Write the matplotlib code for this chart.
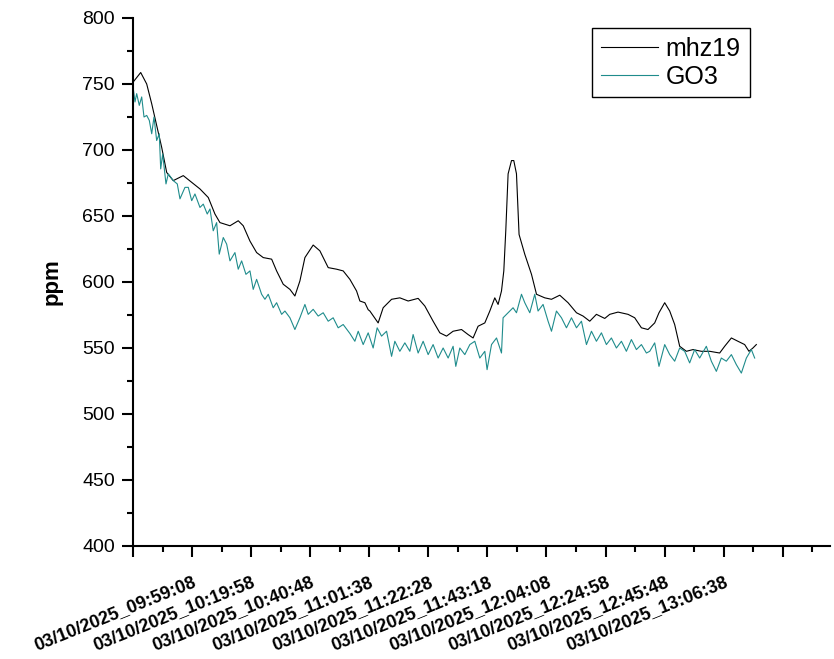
import numpy as np
import matplotlib.pyplot as plt
from matplotlib.ticker import MultipleLocator

# segundos desde 03/10/2025 09:38:18
t_mhz = [6, 163, 290, 396, 501, 607, 713, 852, 1064, 1242, 1417, 1593, 1734, 1840,
         2052, 2227, 2333, 2475, 2616, 2756, 2934, 3039, 3179, 3321, 3426, 3532,
         3638, 3813, 3955, 4131, 4308, 4448, 4590, 4731, 4801, 4907, 4977, 5013,
         5188, 5294, 5472, 5647, 5823, 6034, 6176, 6351, 6493, 6635, 6774, 6952,
         7091, 7197, 7303, 7445, 7551, 7656, 7726, 7798, 7847, 7889, 7938, 8010,
         8058, 8115, 8170, 8291, 8433, 8539, 8714, 8856, 9031, 9207, 9385, 9524,
         9666, 9807, 9983, 10089, 10264, 10476, 10617, 10759, 10898, 11040, 11131,
         11252, 11358, 11463, 11569, 11711, 11850, 12028, 12204, 12415, 12521,
         12663, 12802, 12944, 13035, 13119, 13191]
mhz19 = [751.6, 758.7, 750.0, 735.0, 718.6, 702.0, 683.0, 676.8, 680.6, 675.5, 670.5,
         664.0, 651.5, 645.0, 642.6, 646.4, 642.6, 631.0, 622.3, 618.5, 617.3, 608.4,
         598.3, 594.4, 589.4, 600.8, 618.5, 628.0, 623.6, 610.9, 609.7, 608.4, 602.0,
         593.2, 585.6, 584.3, 579.0, 578.0, 569.0, 580.5, 586.9, 588.0, 585.6, 587.6,
         581.8, 570.3, 561.5, 559.0, 562.7, 564.0, 560.2, 557.6, 566.5, 569.0, 578.0,
         588.0, 583.0, 593.2, 608.4, 639.0, 681.9, 692.0, 692.0, 682.0, 636.0, 621.0,
         605.8, 590.7, 588.0, 586.9, 590.0, 584.3, 576.7, 574.2, 570.3, 575.5, 572.4,
         575.5, 577.2, 575.5, 572.9, 565.3, 564.0, 569.0, 576.7, 584.3, 578.0, 567.8,
         551.3, 547.5, 548.8, 547.5, 547.5, 546.2, 551.3, 557.6, 555.1, 552.6, 547.5,
         550.0, 552.6]

t_go3 = [6, 42, 78, 133, 184, 233, 290, 345, 396, 444, 501, 556, 586, 628, 698, 747,
         852, 937, 994, 1100, 1170, 1242, 1311, 1417, 1487, 1571, 1629, 1698, 1770,
         1825, 1910, 1982, 2052, 2157, 2227, 2299, 2390, 2475, 2544, 2616, 2722, 2792,
         2862, 2967, 3039, 3145, 3215, 3321, 3426, 3532, 3638, 3708, 3813, 3919, 4025,
         4131, 4236, 4342, 4448, 4590, 4695, 4766, 4871, 4977, 5082, 5167, 5260, 5366,
         5472, 5541, 5647, 5753, 5859, 5928, 6034, 6140, 6246, 6351, 6457, 6563, 6669,
         6774, 6831, 6916, 7022, 7128, 7233, 7339, 7445, 7493, 7587, 7693, 7798, 7832,
         7938, 8043, 8115, 8221, 8291, 8397, 8502, 8572, 8678, 8784, 8856, 8961, 9067,
         9173, 9279, 9385, 9490, 9596, 9702, 9807, 9913, 10018, 10124, 10230, 10336,
         10441, 10547, 10653, 10759, 10865, 10935, 11040, 11131, 11252, 11358, 11463,
         11569, 11675, 11780, 11886, 11992, 12133, 12239, 12345, 12450, 12556, 12663,
         12768, 12874, 12980, 13086, 13156]
go3 = [746.5, 736.4, 742.7, 733.8, 740.2, 725.0, 726.2, 722.4, 712.3, 725.0, 707.2,
       712.3, 685.7, 697.0, 674.3, 681.9, 676.8, 674.3, 663.0, 671.7, 671.7, 661.6,
       666.7, 656.5, 659.0, 651.5, 655.3, 638.8, 645.0, 621.1, 633.7, 628.7, 616.0,
       622.3, 609.7, 616.0, 605.8, 608.4, 594.4, 602.0, 590.7, 586.9, 590.7, 580.5,
       584.3, 575.5, 578.0, 572.9, 564.0, 572.9, 583.0, 575.5, 579.3, 574.2, 576.7,
       570.3, 572.9, 565.3, 567.8, 561.0, 555.1, 562.7, 552.6, 561.5, 550.0, 565.3,
       559.0, 562.7, 543.7, 555.1, 547.5, 553.9, 547.5, 560.2, 546.2, 555.1, 545.0,
       552.6, 542.4, 550.0, 542.4, 551.3, 536.1, 550.0, 545.0, 552.6, 555.1, 542.4,
       547.5, 533.6, 552.6, 557.6, 546.2, 572.9, 576.7, 580.5, 576.7, 590.7, 584.3,
       576.7, 590.7, 578.0, 583.0, 570.3, 562.7, 578.0, 572.9, 565.3, 572.9, 565.3,
       570.3, 552.6, 562.7, 555.1, 561.5, 552.6, 557.6, 550.0, 555.1, 547.5, 556.4,
       548.8, 552.6, 546.2, 547.5, 553.9, 536.1, 552.6, 545.0, 540.0, 550.0, 547.5,
       538.7, 548.8, 542.4, 551.3, 540.0, 532.3, 542.4, 540.0, 545.0, 537.4, 531.0,
       542.4, 548.8, 542.4]

tick_pos = [1250, 2500, 3750, 5000, 6250, 7500, 8750, 10000, 11250, 12500]
tick_labels = ['03/10/2025_09:59:08', '03/10/2025_10:19:58', '03/10/2025_10:40:48',
               '03/10/2025_11:01:38', '03/10/2025_11:22:28', '03/10/2025_11:43:18',
               '03/10/2025_12:04:08', '03/10/2025_12:24:58', '03/10/2025_12:45:48',
               '03/10/2025_13:06:38']

plt.rcParams['font.family'] = ['Liberation Sans', 'DejaVu Sans']

fig = plt.figure(figsize=(8.34, 6.59), dpi=100)
ax = fig.add_axes([133/834, 1-546/659, (830-133)/834, (546-18)/659])

ax.plot(t_mhz, mhz19, color='black', lw=0.8, label='mhz19')
ax.plot(t_go3, go3, color='#1f8c8c', lw=0.8, label='GO3')

ax.set_xlim(0, 14750)
ax.set_ylim(400, 800)

for s in ['top', 'right']:
    ax.spines[s].set_visible(False)
for s in ['left', 'bottom']:
    ax.spines[s].set_linewidth(1.5)

ax.set_xticks([0] + tick_pos + [13750])
ax.set_xticklabels([''] + tick_labels + [''], rotation=22, ha='right', va='top',
                   rotation_mode='anchor', fontweight='bold', fontsize=13)
ax.xaxis.set_minor_locator(MultipleLocator(625))
ax.yaxis.set_major_locator(MultipleLocator(50))
ax.yaxis.set_minor_locator(MultipleLocator(25))
ax.tick_params(axis='both', which='major', direction='out', length=8, width=1.5)
ax.tick_params(axis='y', which='major', labelsize=14, pad=5)
ax.tick_params(axis='both', which='minor', direction='out', length=4, width=1.5)
ax.tick_params(axis='x', which='major', pad=12)

ax.set_ylabel('ppm', fontsize=16, fontweight='bold', labelpad=14)

ax.legend(loc='upper left', bbox_to_anchor=(592/834, 1-28/659), bbox_transform=fig.transFigure,
          borderaxespad=0, fancybox=False, edgecolor='black', framealpha=1, fontsize=18,
          handlelength=2.3, handletextpad=0.3, borderpad=0.35, labelspacing=0.15)

fig.savefig('out.png', dpi=100)
